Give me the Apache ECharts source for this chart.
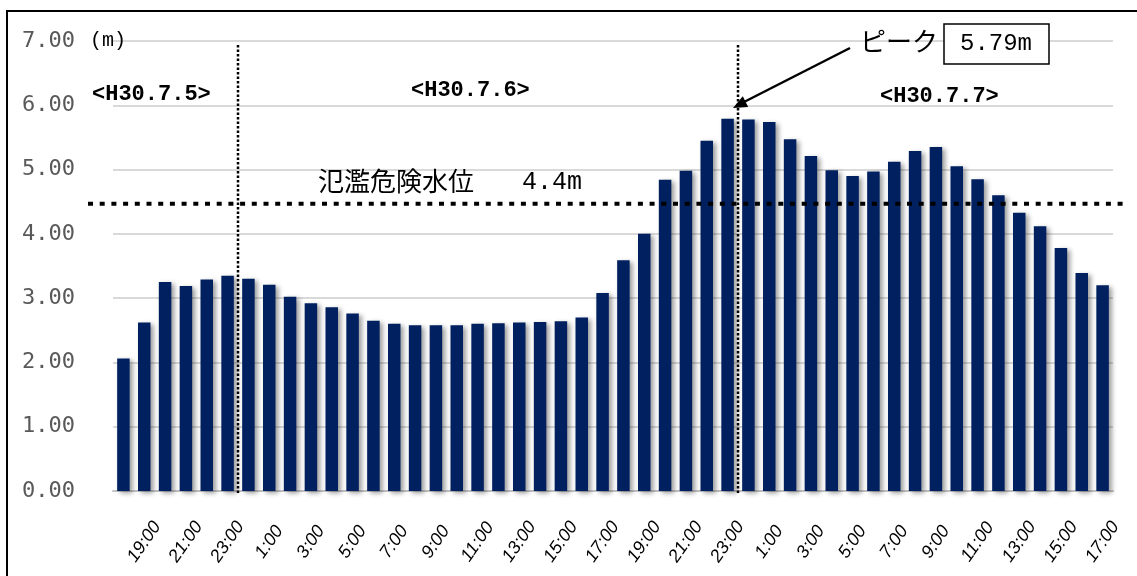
<!DOCTYPE html>
<html>
<head>
<meta charset="utf-8">
<script src="https://cdn.jsdelivr.net/npm/echarts@6/dist/echarts.min.js"></script>
<style>
  html, body { margin: 0; padding: 0; background: #fff; }
  #chart { width: 1137px; height: 576px; }
</style>
</head>
<body>
<div id="chart"></div>
<script>
// 時刻 (H30.7.5 18:00 〜 H30.7.7 17:00)
const hours = [
  "18:00", "19:00", "20:00", "21:00", "22:00", "23:00",
  "0:00", "1:00", "2:00", "3:00", "4:00", "5:00", "6:00", "7:00", "8:00", "9:00",
  "10:00", "11:00", "12:00", "13:00", "14:00", "15:00", "16:00", "17:00",
  "18:00", "19:00", "20:00", "21:00", "22:00", "23:00",
  "0:00", "1:00", "2:00", "3:00", "4:00", "5:00", "6:00", "7:00", "8:00", "9:00",
  "10:00", "11:00", "12:00", "13:00", "14:00", "15:00", "16:00", "17:00"
];
// 水位 (m)
const levels = [
  2.06, 2.62, 3.25, 3.19, 3.29, 3.35,
  3.30, 3.21, 3.02, 2.92, 2.86, 2.76, 2.65, 2.60, 2.58, 2.58,
  2.58, 2.60, 2.61, 2.62, 2.63, 2.64, 2.70, 3.08,
  3.59, 4.00, 4.84, 4.98, 5.45, 5.79,
  5.78, 5.74, 5.47, 5.21, 4.99, 4.90, 4.97, 5.12, 5.29, 5.35,
  5.05, 4.85, 4.60, 4.33, 4.12, 3.78, 3.39, 3.20
];
const dayLabels = ["<H30.7.5>", "<H30.7.6>", "<H30.7.7>"];
const dayBreaks = [5, 29]; // 日付の区切り (この index の後)
const dangerLevel = 4.47;  // 氾濫危険水位の線 (図上の位置)
const peakText = "5.79m";

const chart = echarts.init(document.getElementById("chart"));

const option = {
  backgroundColor: "#ffffff",
  animation: false,
  grid: { left: 113, right: 24, top: 41, bottom: 85 },
  xAxis: {
    type: "category",
    data: hours,
    axisTick: { show: false },
    axisLine: { lineStyle: { color: "#c4c4c4", width: 2 } },
    axisLabel: {
      interval: (i) => i % 2 === 1,
      rotate: 55,
      align: "center",
      verticalAlign: "middle",
      margin: 51,
      color: "#000",
      fontStyle: "italic",
      fontFamily: "Liberation Sans",
      fontSize: 18,
    },
  },
  yAxis: {
    type: "value",
    min: 0,
    max: 7,
    interval: 1,
    axisLine: { show: false },
    axisTick: { show: false },
    axisLabel: {
      formatter: (v) => v.toFixed(2),
      margin: 38,
      color: "#595959",
      fontFamily: "DejaVu Sans Mono",
      fontSize: 22,
    },
    splitLine: { lineStyle: { color: "#d9d9d9", width: 2 } },
  },
  series: [
    {
      type: "bar",
      data: levels,
      barWidth: 12.5,
      itemStyle: {
        color: "#002060",
        shadowColor: "rgba(0,0,0,0.4)",
        shadowBlur: 5,
        shadowOffsetX: 3,
        shadowOffsetY: 2,
      },
    },
  ],
};
chart.setOption(option);

// 補助線・注記
const g = [];
dayBreaks.forEach((i) => {
  const x = (chart.convertToPixel({ xAxisIndex: 0 }, i) +
    chart.convertToPixel({ xAxisIndex: 0 }, i + 1)) / 2;
  g.push({
    type: "line",
    shape: { x1: x, y1: 45, x2: x, y2: 495 },
    style: { stroke: "#000", lineWidth: 2.5, lineDash: [2.5, 2] },
    z: 100,
  });
});
const yDanger = chart.convertToPixel({ yAxisIndex: 0 }, dangerLevel);
g.push({
  type: "line",
  shape: { x1: 88, y1: yDanger, x2: 1127, y2: yDanger },
  style: { stroke: "#000", lineWidth: 4, lineDash: [5, 6.7] },
  z: 100,
});

const monoText = (text, x, y, size, extra) => ({
  type: "text",
  x: x,
  y: y,
  style: Object.assign({
    text: text,
    fill: "#000",
    font: size + "px 'Liberation Mono'",
    verticalAlign: "middle",
  }, extra || {}),
  z: 110,
});

g.push(monoText("(m)", 90, 41, 20, { font: "20px 'Liberation Mono'" }));
g.push(monoText(dayLabels[0], 92, 94, 22, { font: "bold 22px 'Liberation Mono'" }));
g.push(monoText(dayLabels[1], 411, 90, 22, { font: "bold 22px 'Liberation Mono'" }));
g.push(monoText(dayLabels[2], 880, 96, 22, { font: "bold 22px 'Liberation Mono'" }));

g.push({
  type: "text",
  x: 318,
  y: 181,
  style: {
    text: "氾濫危険水位",
    fill: "#000",
    font: "26px 'Noto Sans CJK JP'",
    verticalAlign: "middle",
  },
  z: 110,
});
g.push(monoText("4.4m", 522, 182, 25));

// ピーク
g.push({
  type: "text",
  x: 860,
  y: 41,
  style: {
    text: "ピーク",
    fill: "#000",
    font: "26px 'Noto Sans CJK JP'",
    verticalAlign: "middle",
  },
  z: 110,
});
g.push({
  type: "rect",
  shape: { x: 944, y: 24, width: 105, height: 40 },
  style: { fill: "#fff", stroke: "#000", lineWidth: 1.5 },
  z: 105,
});
g.push(monoText(peakText, 996, 44, 24, { align: "center" }));

// 矢印
g.push({
  type: "line",
  shape: { x1: 850, y1: 48, x2: 744, y2: 102 },
  style: { stroke: "#000", lineWidth: 2.5 },
  z: 110,
});
g.push({
  type: "polygon",
  shape: { points: [[733, 108], [748.2, 107], [742.8, 96.3]] },
  style: { fill: "#000" },
  z: 110,
});

// 枠
g.push({
  type: "rect",
  shape: { x: 7, y: 11, width: 1140, height: 580 },
  style: { fill: "none", stroke: "#000", lineWidth: 2 },
  z: 120,
});

chart.setOption({ graphic: g });
</script>
</body>
</html>
